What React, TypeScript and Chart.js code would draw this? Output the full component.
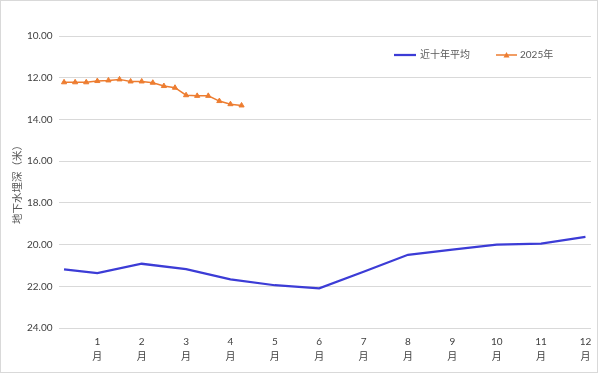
import React, { useEffect, useRef } from "react";
import { Chart, registerables } from "chart.js";

Chart.register(...registerables);

const monthLabels = ["1", "2", "3", "4", "5", "6", "7", "8", "9", "10", "11", "12"];
const stepsPerMonth = 4;

// Ten-year average depth (m): start of year, then end of each month
const avgValues = [21.19, 21.37, 20.92, 21.18, 21.67, 21.95, 22.1, 21.3, 20.49, 20.24, 20.0, 19.95, 19.63];

// 2025 observed depth (m), one value per step from the start of the year
const y2025Values = [
  12.22, 12.22, 12.22, 12.16, 12.13, 12.08, 12.18, 12.18, 12.24, 12.4, 12.48, 12.84, 12.87, 12.87, 13.12,
  13.27, 13.33,
];

const yTicks = [10, 12, 14, 16, 18, 20, 22, 24];

const seriesNames = ["近十年平均", "2025年"];
const yTitle = "地下水埋深（米）";

const BLUE = "#3c3cd6";
const ORANGE = "#ed7d31";
const FONT = 'Lato, "Noto Sans CJK SC", sans-serif';

export default function App() {
  const ref = useRef<HTMLCanvasElement | null>(null);

  useEffect(() => {
    document.body.style.margin = "0";
    const canvas = ref.current;
    if (!canvas) return;

    const n = monthLabels.length * stepsPerMonth;
    const labels: (string | string[])[] = [];
    for (let i = 0; i < n; i++) {
      if ((i + 1) % stepsPerMonth === 0) labels.push([monthLabels[(i + 1) / stepsPerMonth - 1], "月"]);
      else labels.push("");
    }
    const avgData: (number | null)[] = new Array(n).fill(null);
    avgData[0] = avgValues[0];
    for (let m = 1; m < avgValues.length; m++) avgData[m * stepsPerMonth - 1] = avgValues[m];

    const legendPlugin = {
      id: "customLegend",
      afterDraw(chart: any) {
        const ctx = chart.ctx;
        ctx.save();
        const y = 55;
        ctx.font = `10px ${FONT}`;
        ctx.textBaseline = "middle";
        ctx.fillStyle = "#595959";
        ctx.strokeStyle = BLUE;
        ctx.lineWidth = 2.25;
        ctx.beginPath();
        ctx.moveTo(394, y);
        ctx.lineTo(416, y);
        ctx.stroke();
        ctx.fillText(seriesNames[0], 420, y);
        ctx.strokeStyle = ORANGE;
        ctx.lineWidth = 1.5;
        ctx.beginPath();
        ctx.moveTo(496, y);
        ctx.lineTo(517, y);
        ctx.stroke();
        ctx.fillStyle = ORANGE;
        ctx.beginPath();
        ctx.moveTo(506.5, y - 3);
        ctx.lineTo(509.5, y + 2.5);
        ctx.lineTo(503.5, y + 2.5);
        ctx.closePath();
        ctx.fill();
        ctx.fillStyle = "#595959";
        ctx.fillText(seriesNames[1], 520, y);
        ctx.restore();
      },
    };

    const chart = new Chart(canvas, {
      type: "line",
      data: {
        labels,
        datasets: [
          {
            label: seriesNames[0],
            data: avgData,
            borderColor: BLUE,
            backgroundColor: BLUE,
            borderWidth: 2.25,
            pointRadius: 0,
            spanGaps: true,
            tension: 0,
          },
          {
            label: seriesNames[1],
            data: y2025Values,
            borderColor: ORANGE,
            backgroundColor: ORANGE,
            borderWidth: 1.5,
            pointStyle: "triangle",
            pointRadius: 3,
            pointBorderWidth: 1,
            tension: 0,
          },
        ],
      },
      options: {
        responsive: false,
        animation: false,
        layout: { padding: { top: 36, right: 9, bottom: 6, left: 0 } },
        plugins: {
          legend: { display: false },
          tooltip: { enabled: false },
        },
        scales: {
          x: {
            offset: true,
            grid: { display: false, drawTicks: false },
            border: { display: false },
            ticks: {
              autoSkip: false,
              maxRotation: 0,
              minRotation: 0,
              padding: 7,
              color: "#404040",
              font: { family: FONT, size: 10, lineHeight: 1.45 },
            },
            afterFit(scale: any) {
              scale.height = 40;
            },
          },
          y: {
            reverse: true,
            min: yTicks[0],
            max: yTicks[yTicks.length - 1],
            afterBuildTicks(scale: any) {
              scale.ticks = yTicks.map((v) => ({ value: v }));
            },
            grid: { color: "#d9d9d9", drawTicks: false, lineWidth: 1 },
            border: { display: false },
            ticks: {
              padding: 6,
              color: "#404040",
              font: { family: FONT, size: 10 },
              callback: (v: any) => Number(v).toFixed(2),
            },
            title: {
              display: true,
              text: yTitle,
              color: "#595959",
              font: { family: FONT, size: 10.5 },
              padding: { top: 11, bottom: 0 },
            },
            afterFit(scale: any) {
              scale.width = 58.5;
            },
          },
        },
      },
      plugins: [legendPlugin],
    });

    return () => chart.destroy();
  }, []);

  return (
    <div
      style={{
        position: "relative",
        width: 600,
        height: 374,
        boxSizing: "border-box",
        background: "#fff",
      }}
    >
      <canvas ref={ref} width={600} height={374} style={{ display: "block" }} />
      <div
        style={{
          position: "absolute",
          left: 0,
          top: 0,
          width: 598,
          height: 373,
          boxSizing: "border-box",
          border: "1px solid #d9d9d9",
          pointerEvents: "none",
        }}
      />
    </div>
  );
}
